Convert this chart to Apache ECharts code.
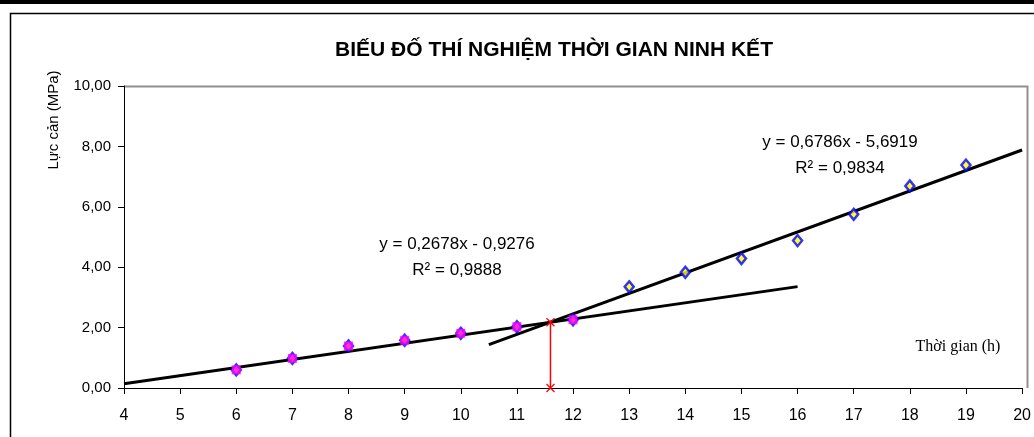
<!DOCTYPE html>
<html>
<head>
<meta charset="utf-8">
<script src="https://cdn.jsdelivr.net/npm/echarts@6/dist/echarts.min.js"></script>
<style>
  html, body { margin: 0; padding: 0; background: #fff; }
  #chart { width: 1034px; height: 437px; }
</style>
</head>
<body>
<div id="chart"></div>
<script>
// measured points (h, MPa)
var hours = [6, 7, 8, 9, 10, 11, 12, 13, 14, 15, 16, 17, 18, 19];
var force = [0.60, 0.98, 1.39, 1.58, 1.81, 2.03, 2.26, 3.35, 3.83, 4.29, 4.88, 5.75, 6.69, 7.38];
var phase1Count = 7; // first 7 points (6h..12h) belong to the first stage

// trend lines from the equations printed on the chart
var slopes = [0.2678, 0.6786];
var intercepts = [-0.9276, -5.6919];
var trendFrom = [4, 10.5];
var trendTo = [16, 20];
var eqText = ['y = 0,2678x - 0,9276', 'y = 0,6786x - 5,6919'];
var r2Text = ['R² = 0,9888', 'R² = 0,9834'];

var allPts = hours.map(function (h, i) { return [h, force[i]]; });
var phase1Pts = allPts.slice(0, phase1Count);

function trendLine(k) {
  return [trendFrom[k], trendTo[k]].map(function (x) {
    return [x, slopes[k] * x + intercepts[k]];
  });
}

// intersection of the two trend lines = setting time
var xCross = (intercepts[0] - intercepts[1]) / (slopes[1] - slopes[0]);
var yCross = slopes[0] * xCross + intercepts[0];

function comma(v) { return v.toFixed(2).replace('.', ','); }

var sans = 'Liberation Sans, Arial, sans-serif';

var chart = echarts.init(document.getElementById('chart'));
chart.setOption({
  animation: false,
  backgroundColor: '#fff',
  title: {
    text: 'BIẾU ĐỐ THÍ NGHIỆM THỜI GIAN NINH KẾT',
    left: 549,
    textAlign: 'center',
    top: 35,
    textStyle: {
      fontFamily: sans,
      fontWeight: 'bold',
      fontSize: 21,
      color: '#000'
    }
  },
  grid: { left: 124, right: 7, top: 86, bottom: 49, show: false },
  xAxis: {
    type: 'value',
    min: 4,
    max: 20,
    interval: 1,
    axisLine: { lineStyle: { color: '#000', width: 1 } },
    axisTick: { inside: false, length: 6, lineStyle: { color: '#000' } },
    axisLabel: {
      margin: 20,
      fontFamily: sans,
      fontSize: 16,
      color: '#000'
    },
    splitLine: { show: false }
  },
  yAxis: {
    type: 'value',
    min: 0,
    max: 10,
    interval: 2,
    axisLine: { show: true, lineStyle: { color: '#000', width: 1 } },
    axisTick: { show: true, length: 6, lineStyle: { color: '#000' } },
    axisLabel: {
      margin: 13,
      fontFamily: sans,
      fontSize: 15,
      color: '#000',
      formatter: comma
    },
    splitLine: { show: false }
  },
  graphic: [
    { type: 'rect', left: 0, top: 0, shape: { width: 1034, height: 4 }, style: { fill: '#000' }, silent: true },
    { type: 'rect', left: 8, top: 11, shape: { width: 1060, height: 460 }, style: { fill: 'none', stroke: '#000', lineWidth: 1.5 }, silent: true, z: -1 },
    { type: 'polyline', shape: { points: [[124, 86.5], [1027.5, 86.5], [1027.5, 388]] }, style: { stroke: '#909090', lineWidth: 2, fill: 'none' }, silent: true },
    {
      type: 'text', x: 54, y: 120, rotation: Math.PI / 2, silent: true,
      style: { text: 'Lực cản (MPa)', x: 0, y: 0, align: 'center', verticalAlign: 'middle', fontFamily: sans, fontSize: 15, fill: '#000' }
    },
    {
      type: 'text', silent: true,
      style: { text: 'Thời gian (h)', x: 958, y: 347, align: 'center', verticalAlign: 'middle', fontFamily: 'Liberation Serif', fontSize: 16, fill: '#000' }
    },
    {
      type: 'text', silent: true,
      style: { text: eqText[0], x: 457, y: 244, align: 'center', verticalAlign: 'middle', fontFamily: sans, fontSize: 17, fill: '#000' }
    },
    {
      type: 'text', silent: true,
      style: { text: r2Text[0], x: 457, y: 270, align: 'center', verticalAlign: 'middle', fontFamily: sans, fontSize: 17, fill: '#000' }
    },
    {
      type: 'text', silent: true,
      style: { text: eqText[1], x: 840, y: 142, align: 'center', verticalAlign: 'middle', fontFamily: sans, fontSize: 17, fill: '#000' }
    },
    {
      type: 'text', silent: true,
      style: { text: r2Text[1], x: 840, y: 168, align: 'center', verticalAlign: 'middle', fontFamily: sans, fontSize: 17, fill: '#000' }
    }
  ],
  series: [
    {
      name: 'trend 1',
      type: 'line',
      data: trendLine(0),
      symbol: 'none',
      lineStyle: { color: '#000', width: 3 },
      z: 2
    },
    {
      name: 'trend 2',
      type: 'line',
      data: trendLine(1),
      symbol: 'none',
      lineStyle: { color: '#000', width: 3 },
      z: 2
    },
    {
      name: 'measured',
      type: 'scatter',
      data: allPts,
      symbol: 'diamond',
      symbolSize: [9, 11],
      itemStyle: { color: '#ffff00', borderColor: '#0000ff', borderWidth: 2.5 },
      z: 3
    },
    {
      name: 'stage 1',
      type: 'scatter',
      data: phase1Pts,
      symbol: 'rect',
      symbolSize: 9,
      itemStyle: { color: '#ff00ff' },
      z: 4
    },
    {
      name: 'setting time',
      type: 'line',
      data: [[xCross, 0], [xCross, yCross]],
      symbol: 'path://M0,0L10,10M10,0L0,10',
      symbolSize: 8,
      showSymbol: true,
      itemStyle: { color: 'none', borderColor: '#ff0000', borderWidth: 1.2 },
      lineStyle: { color: '#ff0000', width: 1.5 },
      z: 5
    }
  ]
});
</script>
</body>
</html>
